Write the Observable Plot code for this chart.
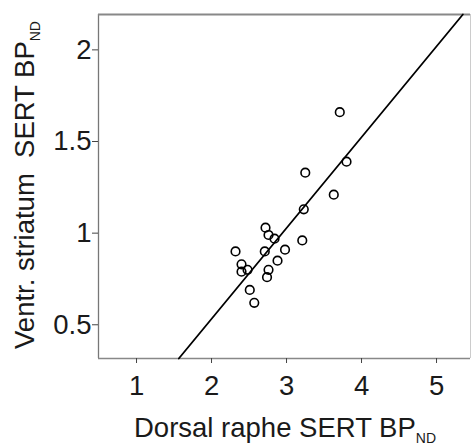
<!DOCTYPE html>
<html>
<head>
<meta charset="utf-8">
<script src="https://cdn.jsdelivr.net/npm/d3@7"></script>
<script src="https://cdn.jsdelivr.net/npm/@observablehq/plot@0.6"></script>
<style>
  html, body { margin: 0; padding: 0; background: #fff; }
</style>
</head>
<body>
<div id="chart"></div>
<script>
// Data
const dorsalRaphe = [3.23, 2.72, 2.76, 2.84, 2.32, 2.71, 2.98, 3.21, 2.40, 2.48, 2.40, 2.88, 2.76, 2.74, 2.51, 2.57, 3.71, 3.80, 3.25, 3.63];
const ventrStriatum = [1.13, 1.03, 0.99, 0.97, 0.90, 0.90, 0.91, 0.96, 0.83, 0.80, 0.79, 0.85, 0.80, 0.76, 0.69, 0.62, 1.66, 1.39, 1.33, 1.21];
// Fitted regression line end points
const fitX = [1.564, 5.351];
const fitY = [0.316, 2.193];
const xTicks = [1, 2, 3, 4, 5];
const yTicks = [0.5, 1, 1.5, 2];
const xDomain = [0.493, 5.453];
const yDomain = [0.316, 2.193];

const points = dorsalRaphe.map((x, i) => ({x, y: ventrStriatum[i]}));
const fit = fitX.map((x, i) => ({x, y: fitY[i]}));

const font = "'Liberation Sans', Arial, Helvetica, sans-serif";

const svg = Plot.plot({
  width: 471,
  height: 448,
  marginLeft: 98,
  marginRight: 1,
  marginTop: 14,
  marginBottom: 90,
  style: {fontFamily: font, background: "#fff"},
  x: {domain: xDomain, ticks: xTicks},
  y: {domain: yDomain, ticks: yTicks},
  marks: [
    Plot.ruleX([xDomain[1]], {stroke: "#ccc", strokeWidth: 1}),
    Plot.ruleX([xDomain[0]], {stroke: "#777", strokeWidth: 1.3}),
    Plot.ruleY([yDomain[1]], {stroke: "#888", strokeWidth: 1.8}),
    Plot.ruleY([yDomain[0]], {stroke: "#888", strokeWidth: 1.6}),
    Plot.axisX({ticks: xTicks, tickSize: 5, tickPadding: 12, fontSize: 27.5, label: null, stroke: "#444", fill: "#1a1a1a", tickFormat: d => String(d)}),
    Plot.axisY({ticks: yTicks, tickSize: 6, tickPadding: 1, fontSize: 27.5, label: null, stroke: "#444", fill: "#1a1a1a", tickFormat: d => String(d)}),
    Plot.line(fit, {x: "x", y: "y", stroke: "#000", strokeWidth: 1.8}),
    Plot.dot(points, {x: "x", y: "y", r: 4.3, stroke: "#000", strokeWidth: 1.6, fill: "none"})
  ]
});

const s = d3.select(svg);
// X axis label with subscript
const xl = s.append("text")
  .attr("x", 285).attr("y", 437)
  .attr("text-anchor", "middle")
  .attr("font-family", font)
  .attr("font-size", 27.5)
  .attr("fill", "#1a1a1a");
xl.append("tspan").text("Dorsal raphe SERT BP");
xl.append("tspan").attr("font-size", 14).attr("dy", 6).text("ND");

// Y axis label with subscript
const yl = s.append("text")
  .attr("transform", "translate(34,185) rotate(-90)")
  .attr("text-anchor", "middle")
  .attr("font-family", font)
  .attr("font-size", 27.5)
  .attr("fill", "#1a1a1a")
  .attr("xml:space", "preserve");
yl.append("tspan").text("Ventr. striatum  SERT BP");
yl.append("tspan").attr("font-size", 14).attr("dy", 6).text("ND");

document.getElementById("chart").appendChild(svg);
</script>
</body>
</html>
